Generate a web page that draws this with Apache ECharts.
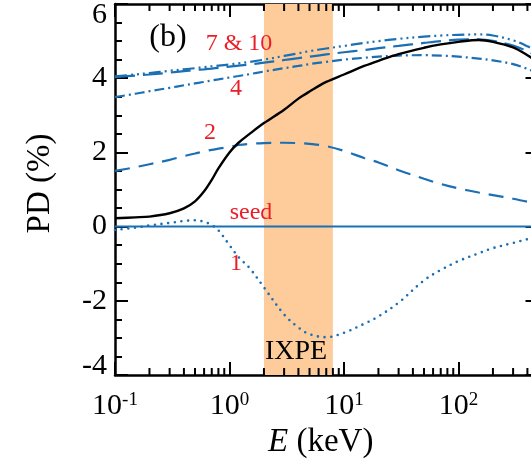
<!DOCTYPE html>
<html>
<head>
<meta charset="utf-8">
<script src="https://cdn.jsdelivr.net/npm/echarts@6/dist/echarts.min.js"></script>
<style>
  html, body { margin: 0; padding: 0; background: #ffffff; }
  #chart { width: 531px; height: 462px; }
</style>
</head>
<body>
<div id="chart"></div>
<script>
// Photon energy grid (keV) shared by the scattering-order curves
const energies = [0.1, 0.15, 0.2, 0.3, 0.4, 0.5, 0.6, 0.7, 0.8, 1, 1.2, 1.5, 2, 3, 4, 5, 7,
                  10, 15, 20, 30, 50, 70, 100, 150, 200, 300, 400, 500];

// Polarization degree (%) of the total spectrum
const pdTotal = [0.225, 0.25, 0.27, 0.36, 0.49, 0.68, 0.95, 1.26, 1.57, 2.0, 2.26, 2.5, 2.79, 3.15, 3.45, 3.64, 3.9,
                 4.1, 4.33, 4.47, 4.65, 4.82, 4.91, 4.98, 5.03, 4.98, 4.83, 4.62, 4.42];

// PD (%) after 1 scattering
const pdN1 = [-0.09, -0.03, 0.03, 0.1, 0.15, 0.17, 0.13, 0.04, -0.1, -0.5, -0.82, -1.12, -1.64, -2.37, -2.72, -2.9, -2.98,
              -2.86, -2.62, -2.42, -2.05, -1.45, -1.17, -0.93, -0.72, -0.58, -0.44, -0.34, -0.28];

// PD (%) after 2 scatterings
const pdN2 = [1.5, 1.6, 1.68, 1.8, 1.9, 1.97, 2.03, 2.07, 2.1, 2.15, 2.2, 2.23, 2.25, 2.26, 2.25, 2.23, 2.17,
              2.04, 1.85, 1.73, 1.52, 1.29, 1.15, 1.03, 0.92, 0.85, 0.75, 0.67, 0.62];

// PD (%) after 4 scatterings
const pdN4 = [3.49, 3.58, 3.65, 3.74, 3.81, 3.86, 3.9, 3.94, 3.97, 4.02, 4.06, 4.11, 4.18, 4.27, 4.33, 4.38, 4.44,
              4.5, 4.55, 4.58, 4.61, 4.62, 4.61, 4.58, 4.53, 4.48, 4.38, 4.25, 4.13];

// PD (%) after 7 scatterings
const pdN7 = [4.05, 4.1, 4.14, 4.2, 4.24, 4.27, 4.3, 4.32, 4.34, 4.37, 4.4, 4.44, 4.5, 4.6, 4.67, 4.73, 4.8,
              4.87, 4.95, 5.0, 5.06, 5.12, 5.15, 5.17, 5.18, 5.15, 5.02, 4.86, 4.7];

// PD (%) after 10 scatterings
const pdN10 = [4.03, 4.07, 4.1, 4.15, 4.19, 4.22, 4.24, 4.26, 4.28, 4.31, 4.34, 4.37, 4.42, 4.49, 4.54, 4.58, 4.64,
               4.7, 4.76, 4.81, 4.87, 4.95, 5.0, 5.04, 5.05, 5.01, 4.88, 4.73, 4.58];

// Unscattered seed photons
const seedEnergies = [0.1, 500];
const pdSeed = [0, 0];

// IXPE energy band (keV)
const ixpeBand = [2, 8];

// Axis ranges
const xRange = [0.1, 500];
const yRange = [-4, 6];
const yTickStep = 2;

const SERIF = '"Liberation Serif", "Times New Roman", serif';
const BLUE = '#1a6fb5';
const RED = '#eb1e28';
const BAND = '#fdcc9a';

function pairs(xs, ys) { return xs.map((x, i) => [x, ys[i]]); }

// minor tick positions on the logarithmic axis: 2..9 times each decade
const minorTicks = [];
for (let d = -1; d <= 2; d++) {
  for (let k = 2; k <= 9; k++) {
    const v = k * Math.pow(10, d);
    if (v < xRange[1]) minorTicks.push(v);
  }
}

function decadeLabel(v) {
  const e = Math.log10(v);
  const n = Math.round(e);
  if (Math.abs(e - n) > 1e-6) return '';
  return '10{sup|' + n + '}';
}

const tickFont = { fontFamily: SERIF, fontSize: 30, color: '#000' };

const xAxisBase = {
  type: 'log',
  logBase: 10,
  min: xRange[0],
  max: xRange[1],
  interval: 1,
  splitLine: { show: false },
  axisLine: { show: true, onZero: false, lineStyle: { color: '#000', width: 2.5 } },
  axisTick: { show: true, inside: true, length: 13, lineStyle: { color: '#000', width: 2 } }
};

const yAxisBase = {
  type: 'value',
  min: yRange[0],
  max: yRange[1],
  interval: yTickStep,
  splitLine: { show: false },
  axisLine: { show: true, onZero: false, lineStyle: { color: '#000', width: 2.5 } },
  axisTick: { show: true, inside: true, length: 13, lineStyle: { color: '#000', width: 2 } },
  minorTick: { show: true, splitNumber: 4, length: 7, lineStyle: { color: '#000', width: 2 } }
};

function curve(name, xs, ys, color, width, dash, cap, z) {
  return {
    name: name,
    type: 'line',
    data: pairs(xs, ys),
    showSymbol: false,
    smooth: 0.35,
    silent: true,
    z: z,
    lineStyle: { color: color, width: width, type: dash, cap: cap || 'butt' }
  };
}

const chart = echarts.init(document.getElementById('chart'), null, { renderer: 'canvas' });

chart.setOption({
  animation: false,
  backgroundColor: '#ffffff',
  grid: { left: 115, top: 4, right: -7.5, bottom: 87, containLabel: false, outerBoundsMode: 'none' },
  xAxis: [
    Object.assign({}, xAxisBase, {
      position: 'bottom',
      name: '{i|E} (keV)',
      nameLocation: 'middle',
      nameGap: 48,
      nameTextStyle: {
        fontFamily: SERIF, fontSize: 33, color: '#000', padding: [0, 12, 0, 0],
        rich: { i: { fontFamily: SERIF, fontSize: 33, fontStyle: 'italic', color: '#000' } }
      },
      axisLabel: {
        show: true,
        margin: 16,
        formatter: decadeLabel,
        fontFamily: SERIF, fontSize: 30, color: '#000',
        rich: { sup: { fontFamily: SERIF, fontSize: 19, color: '#000', verticalAlign: 'top' } }
      }
    }),
    Object.assign({}, xAxisBase, { position: 'top', axisLabel: { show: false } })
  ],
  yAxis: [
    Object.assign({}, yAxisBase, {
      position: 'left',
      name: 'PD (%)',
      nameLocation: 'middle',
      nameGap: 58,
      nameTextStyle: { fontFamily: SERIF, fontSize: 33, color: '#000', padding: [0, 0, 0, 12] },
      axisLabel: {
        show: true,
        margin: 8,
        fontFamily: SERIF, fontSize: 30, color: '#000',
        formatter: function (v) {
          if (v === yRange[1]) return '{top|' + v + '}';
          if (v === yRange[0]) return '{bot|' + v + '}';
          return String(v);
        },
        rich: {
          top: Object.assign({ padding: [22, 0, 0, 0] }, tickFont),
          bot: Object.assign({ padding: [0, 0, 18, 0] }, tickFont)
        }
      }
    }),
    Object.assign({}, yAxisBase, { position: 'right', axisLabel: { show: false } })
  ],
  series: [
    {
      name: 'IXPE band',
      type: 'line',
      data: [],
      silent: true,
      z: 1,
      markArea: {
        silent: true,
        itemStyle: { color: BAND, opacity: 1 },
        data: [[{ xAxis: ixpeBand[0] }, { xAxis: ixpeBand[1] }]]
      }
    },
    curve('seed', seedEnergies, pdSeed, BLUE, 2, 'solid', 'butt', 3),
    curve('1', energies, pdN1, BLUE, 2.6, [0, 6.7], 'round', 3),
    curve('2', energies, pdN2, BLUE, 2.2, [15, 9], 'butt', 3),
    curve('4', energies, pdN4, BLUE, 2.2, [10, 4, 2, 4], 'butt', 3),
    curve('7', energies, pdN7, BLUE, 2.2, [12, 4, 2, 4, 2, 4, 2, 4], 'butt', 3),
    curve('10', energies, pdN10, BLUE, 2.2, [20, 8], 'butt', 3),
    curve('total', energies, pdTotal, '#000', 2.4, 'solid', 'butt', 4),
    {
      name: 'minor ticks',
      type: 'custom',
      silent: true,
      z: 5,
      clip: false,
      data: minorTicks.map(v => [v, yRange[0]]),
      renderItem: function (params, api) {
        const v = api.value(0);
        const pb = api.coord([v, yRange[0]]);
        const pt = api.coord([v, yRange[1]]);
        const st = { stroke: '#000', lineWidth: 2 };
        return {
          type: 'group',
          children: [
            { type: 'line', shape: { x1: pb[0], y1: pb[1], x2: pb[0], y2: pb[1] - 7 }, style: st },
            { type: 'line', shape: { x1: pt[0], y1: pt[1], x2: pt[0], y2: pt[1] + 7 }, style: st }
          ]
        };
      }
    }
  ],
  graphic: [
    { type: 'text', x: 168, y: 38, z: 10, silent: true,
      style: { text: '(b)', fill: '#000', font: '32px ' + SERIF, textAlign: 'center', align: 'center', textVerticalAlign: 'middle', verticalAlign: 'middle' } },
    { type: 'text', x: 239, y: 44, z: 10, silent: true,
      style: { text: '7 & 10', fill: RED, font: '24px ' + SERIF, textAlign: 'center', align: 'center', textVerticalAlign: 'middle', verticalAlign: 'middle' } },
    { type: 'text', x: 236, y: 89, z: 10, silent: true,
      style: { text: '4', fill: RED, font: '24px ' + SERIF, textAlign: 'center', align: 'center', textVerticalAlign: 'middle', verticalAlign: 'middle' } },
    { type: 'text', x: 210, y: 133, z: 10, silent: true,
      style: { text: '2', fill: RED, font: '24px ' + SERIF, textAlign: 'center', align: 'center', textVerticalAlign: 'middle', verticalAlign: 'middle' } },
    { type: 'text', x: 251, y: 213, z: 10, silent: true,
      style: { text: 'seed', fill: RED, font: '24px ' + SERIF, textAlign: 'center', align: 'center', textVerticalAlign: 'middle', verticalAlign: 'middle' } },
    { type: 'text', x: 236, y: 264, z: 10, silent: true,
      style: { text: '1', fill: RED, font: '24px ' + SERIF, textAlign: 'center', align: 'center', textVerticalAlign: 'middle', verticalAlign: 'middle' } },
    { type: 'text', x: 296, y: 352, z: 10, silent: true,
      style: { text: 'IXPE', fill: '#000', font: '28px ' + SERIF, textAlign: 'center', align: 'center', textVerticalAlign: 'middle', verticalAlign: 'middle' } }
  ]
});
</script>
</body>
</html>
